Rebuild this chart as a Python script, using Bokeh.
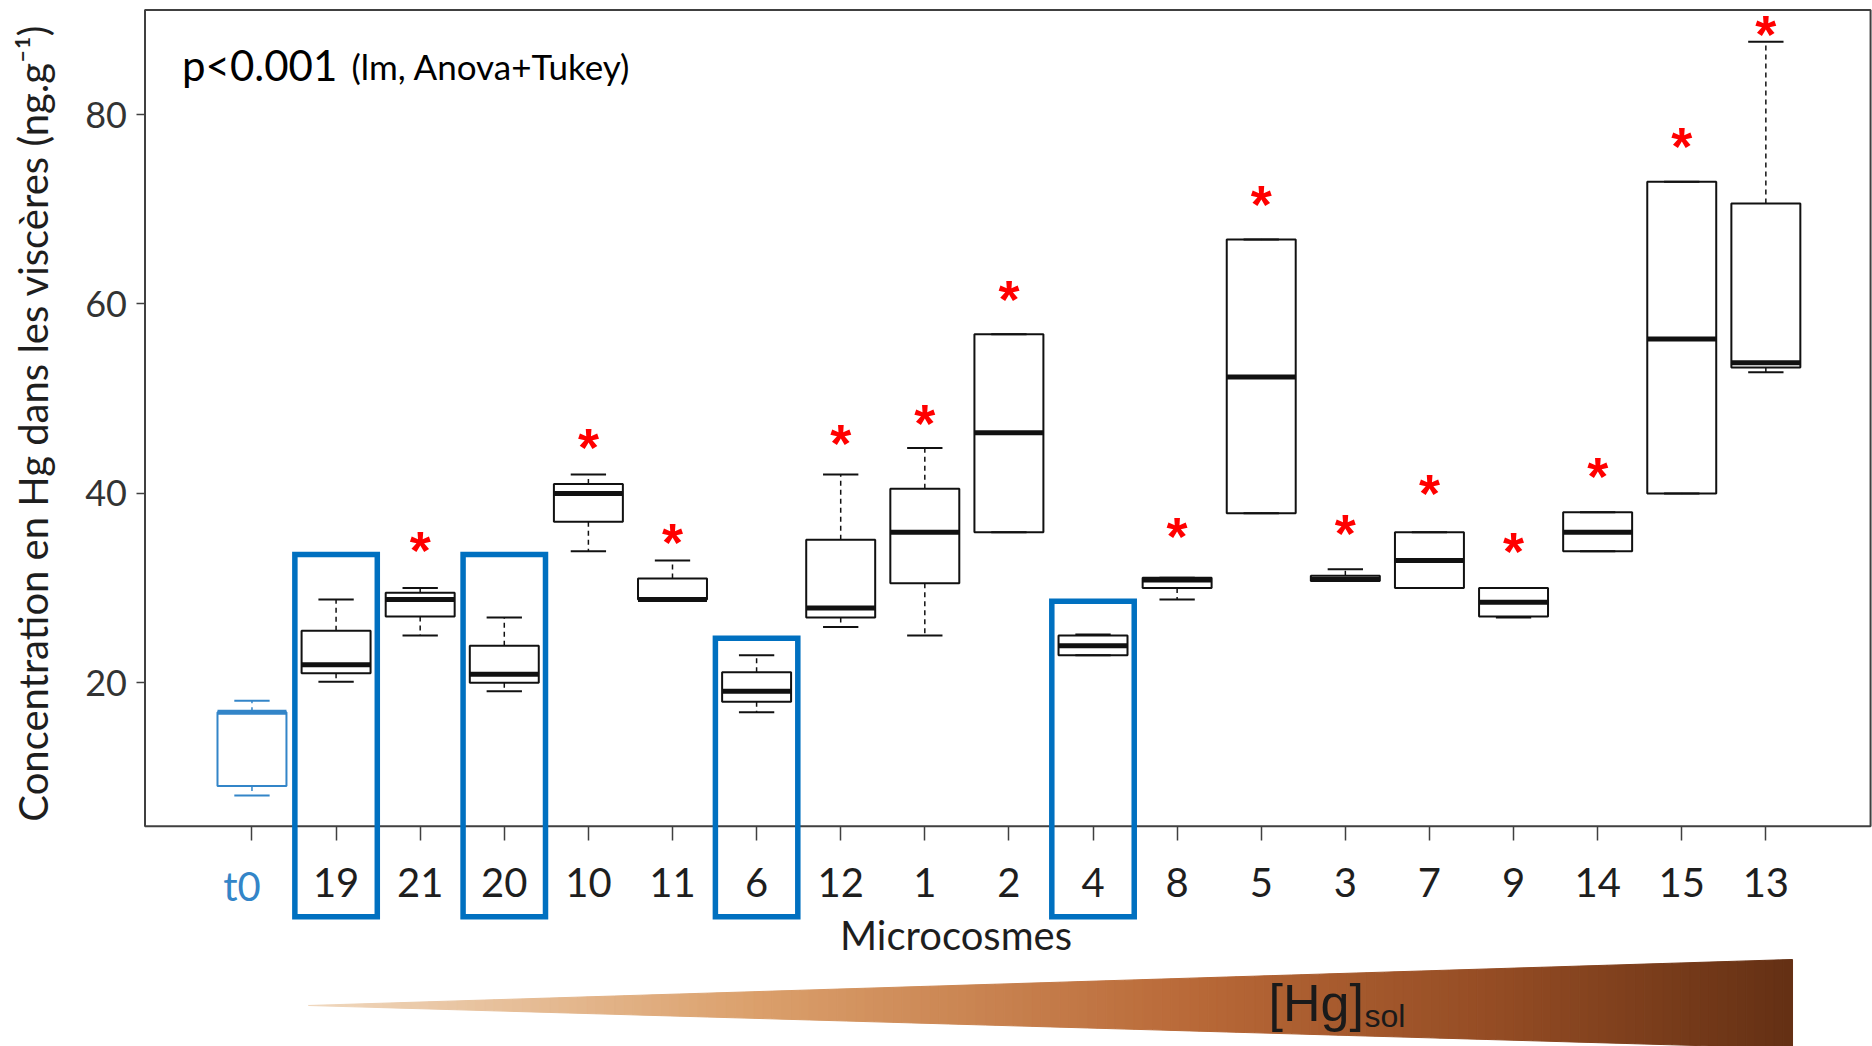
from bokeh.plotting import figure
from bokeh.models import Range1d, FixedTicker, ColumnDataSource
from bokeh.core.properties import value
from bokeh.embed import file_html
from bokeh.resources import INLINE

# Hg concentration in viscera per microcosm (ng/g), ordered by soil Hg
groups = ["t0", "19", "21", "20", "10", "11", "6", "12", "1", "2",
          "4", "8", "5", "3", "7", "9", "14", "15", "13"]
whisker_low = [8.1, 20.1, 25.0, 19.1, 33.9, 28.8, 16.9, 25.9, 25.0, 35.9,
               22.9, 28.8, 37.9, 30.75, 30.0, 26.9, 33.9, 40.0, 52.8]
q1 = [9.1, 21.0, 27.0, 20.0, 37.0, 28.8, 18.0, 26.9, 30.5, 35.9,
      22.9, 30.0, 37.9, 30.75, 30.0, 27.0, 33.9, 40.0, 53.3]
median = [16.9, 21.9, 28.8, 20.9, 40.0, 28.8, 19.1, 27.9, 35.9, 46.4,
          23.9, 30.85, 52.3, 30.9, 32.9, 28.5, 35.9, 56.3, 53.8]
q3 = [16.9, 25.5, 29.5, 23.9, 41.0, 31.0, 21.1, 35.1, 40.5, 56.8,
      25.0, 31.1, 66.8, 31.3, 35.9, 30.0, 38.0, 72.9, 70.6]
whisker_high = [18.1, 28.8, 30.0, 26.9, 42.0, 32.9, 22.9, 42.0, 44.8, 56.8,
                25.1, 31.1, 66.8, 32.0, 35.9, 30.0, 38.0, 72.9, 87.7]

# significance stars (vs t0) and their heights
star_groups = ["21", "10", "11", "12", "1", "2", "8", "5", "3", "7", "9", "14", "15", "13"]
star_y = [35.0, 45.8, 35.8, 46.3, 48.4, 61.5, 36.5, 71.5, 36.8, 41.0, 34.9, 42.8, 77.6, 89.5]

# microcosms framed in blue, with the top of each frame
highlighted = ["19", "20", "6", "4"]
highlight_top = [33.55, 33.55, 24.7, 28.6]

BLUE_T0 = "#3385C8"
FRAME_BLUE = "#0070C0"
INK = "#111111"
AXIS_GREY = "#404040"

pos = {g: i + 1 for i, g in enumerate(groups)}
xpos = [pos[g] for g in groups]
colors = [BLUE_T0 if g == "t0" else INK for g in groups]

Y_AXIS_X = -0.272     # left side of the plot box (category units)
X_AXIS_Y = 4.86       # bottom of the plot box (data units)
Y_TOP = 91.05
X_RIGHT = 20.245

p = figure(width=1872, height=1046,
           x_range=Range1d(-1.990, 20.268), y_range=Range1d(-18.41, 92.05),
           output_backend="svg", toolbar_location=None,
           min_border=0, min_border_left=0, min_border_right=0,
           min_border_top=0, min_border_bottom=0)
p.outline_line_color = None
p.grid.visible = False
p.background_fill_color = "white"
p.border_fill_color = "white"

# plot box
p.quad(left=[Y_AXIS_X], right=[X_RIGHT], bottom=[X_AXIS_Y], top=[Y_TOP],
       fill_color=None, line_color=AXIS_GREY, line_width=2)

# soil Hg gradient wedge under the axis
wx0, wx1 = 1.672, 19.317
w_tip, w_top, w_bot = -14.08, -9.22, -18.6
stops = [(0.0, (240, 216, 190)), (0.3, (219, 160, 108)), (0.6, (184, 104, 55)),
         (0.8, (148, 76, 36)), (1.0, (100, 48, 20))]


def shade(t):
    for (t0, c0), (t1, c1) in zip(stops[:-1], stops[1:]):
        if t <= t1:
            f = (t - t0) / (t1 - t0)
            return "#%02x%02x%02x" % tuple(round(a + (b - a) * f) for a, b in zip(c0, c1))
    return "#%02x%02x%02x" % stops[-1][1]


n_strips = 160
wxs, wys, wcols = [], [], []
for i in range(n_strips):
    ta, tb = i / n_strips, (i + 1) / n_strips
    xa = wx0 + (wx1 - wx0) * ta
    xb = wx0 + (wx1 - wx0) * tb
    wxs.append([xa, xb, xb, xa])
    wys.append([w_tip + (w_top - w_tip) * ta, w_tip + (w_top - w_tip) * tb,
                w_tip + (w_bot - w_tip) * tb, w_tip + (w_bot - w_tip) * ta])
    wcols.append(shade((ta + tb) / 2))
p.patches(xs=wxs, ys=wys, fill_color=wcols, line_color=wcols, line_width=1)

p.text(x=[13.087], y=[-16.08], text=["[Hg]"], text_font=value("Liberation Sans"),
       text_font_size="52px", text_color="#1a1a1a", text_align="left",
       text_baseline="alphabetic", y_offset=-21)
p.text(x=[13.087], y=[-16.08], text=["sol"], text_font=value("Liberation Sans"),
       text_font_size="32px", text_color="#1a1a1a", text_align="left",
       text_baseline="alphabetic", x_offset=96, y_offset=-8)

# boxplots
src = ColumnDataSource(dict(x=xpos, lo=whisker_low, q1=q1, med=median, q3=q3,
                            hi=whisker_high, color=colors,
                            l=[x - 0.41 for x in xpos], r=[x + 0.41 for x in xpos],
                            cl=[x - 0.21 for x in xpos], cr=[x + 0.21 for x in xpos]))
p.segment(x0="x", y0="q3", x1="x", y1="hi", source=src, line_color="color",
          line_width=1.5, line_dash="5 4")
p.segment(x0="x", y0="q1", x1="x", y1="lo", source=src, line_color="color",
          line_width=1.5, line_dash="5 4")
p.segment(x0="cl", y0="hi", x1="cr", y1="hi", source=src, line_color="color", line_width=2)
p.segment(x0="cl", y0="lo", x1="cr", y1="lo", source=src, line_color="color", line_width=2)
p.quad(left="l", right="r", bottom="q1", top="q3", source=src, fill_color=None,
       line_color="color", line_width=2)
p.segment(x0="l", y0="med", x1="r", y1="med", source=src, line_color="color",
          line_width=5)

# significance stars
p.text(x=[pos[g] for g in star_groups], y=star_y, text=["*"] * len(star_groups),
       text_font=value("Liberation Sans"), text_font_style="bold",
       text_font_size="54px", text_color="red", text_align="center",
       text_baseline="alphabetic", y_offset=9)

# blue frames around selected microcosms
hx = [pos[g] for g in highlighted]
p.quad(left=[x - 0.49 for x in hx], right=[x + 0.49 for x in hx],
       bottom=[-4.7] * len(hx), top=highlight_top,
       fill_color=None, line_color=FRAME_BLUE, line_width=5.5, line_join="miter")

# statistics note
p.text(x=[0.168], y=[83.7], text=["p<0.001"], text_font=value("Lato"),
       text_font_size="42px", text_color="black", text_align="left",
       text_baseline="alphabetic", y_offset=-15)
p.text(x=[2.183], y=[83.7], text=["(lm, Anova+Tukey)"], text_font=value("Lato"),
       text_font_size="35px", text_color="black", text_align="left",
       text_baseline="alphabetic", y_offset=-14)

# x axis (categories) pinned to the bottom of the plot box
xa = p.xaxis[0]
xa.fixed_location = X_AXIS_Y
xa.ticker = FixedTicker(ticks=xpos)
xa.major_label_overrides = {pos[g]: ("" if g == "t0" else g) for g in groups}
xa.bounds = (-0.27, 19.01)
xa.axis_line_color = None
xa.major_tick_out = 14
xa.major_tick_in = 0
xa.major_tick_line_color = AXIS_GREY
xa.major_tick_line_width = 1.5
xa.minor_tick_line_color = None
xa.major_label_standoff = 28
xa.major_label_text_font = "Lato"
xa.major_label_text_font_size = "40px"
xa.major_label_text_color = "#1e1e1e"
xa.axis_label = "Microcosmes"
xa.axis_label_text_font = "Lato"
xa.axis_label_text_font_size = "40px"
xa.axis_label_text_font_style = "normal"
xa.axis_label_text_color = "#1e1e1e"
xa.axis_label_standoff = 10

# the reference group label in blue
p.text(x=[pos["t0"]], y=[X_AXIS_Y], text=["t0"], text_font=value("Lato"),
       text_font_size="40px", text_color=BLUE_T0, text_align="center",
       text_baseline="alphabetic", y_offset=60, x_offset=-10)

# y axis pinned to the left of the plot box
ya = p.yaxis[0]
ya.fixed_location = Y_AXIS_X
ya.ticker = FixedTicker(ticks=[20, 40, 60, 80])
ya.bounds = (X_AXIS_Y, Y_TOP)
ya.axis_line_color = None
ya.major_tick_out = 8
ya.major_tick_in = 0
ya.major_tick_line_color = AXIS_GREY
ya.major_tick_line_width = 1.5
ya.minor_tick_line_color = None
ya.major_label_standoff = 10
ya.major_label_text_font = "Lato"
ya.major_label_text_font_size = "36px"
ya.major_label_text_color = "#333333"
ya.axis_label = "Concentration en Hg dans les viscères  (ng.g\u207b\u00b9)"
ya.axis_label_text_font = "Lato"
ya.axis_label_text_font_size = "40px"
ya.axis_label_text_font_style = "normal"
ya.axis_label_text_color = "#1e1e1e"
ya.axis_label_standoff = 25

open("out.html", "w").write(file_html(p, INLINE))
